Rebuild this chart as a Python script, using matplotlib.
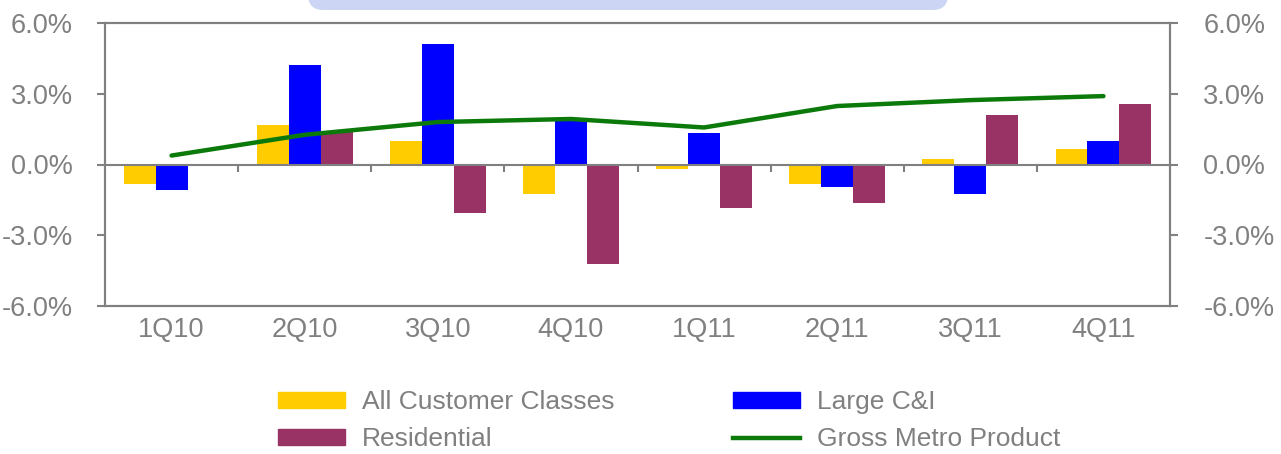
import matplotlib
matplotlib.use("Agg")
import matplotlib.pyplot as plt
import numpy as np
from matplotlib.patches import FancyBboxPatch, Patch
from matplotlib.lines import Line2D

plt.rcParams['font.family'] = ['Liberation Sans', 'DejaVu Sans']

quarters = ["1Q10", "2Q10", "3Q10", "4Q10", "1Q11", "2Q11", "3Q11", "4Q11"]
all_classes = [-0.84, 1.68, 1.00, -1.27, -0.20, -0.84, 0.25, 0.67]
large_ci = [-1.09, 4.24, 5.13, 1.89, 1.34, -0.97, -1.27, 1.00]
residential = [0.0, 1.39, -2.06, -4.20, -1.85, -1.64, 2.10, 2.56]
gmp = [0.38, 1.26, 1.80, 1.93, 1.57, 2.48, 2.73, 2.90]
yticks = [-6, -3, 0, 3, 6]
ytick_labels = ["-6.0%", "-3.0%", "0.0%", "3.0%", "6.0%"]

c_yellow = "#FFCC00"
c_blue = "#0000FF"
c_maroon = "#993366"
c_green = "#0B7A0B"
c_gray = "#808080"
fs = 19.5
lfs = 19

fig = plt.figure(figsize=(12.81, 4.54), dpi=100)
ax = fig.add_axes([105/1281, 1-306/454, (1170-105)/1281, (306-23)/454])

x = np.arange(len(quarters))
w = 0.24
ax.bar(x - w, all_classes, w, color=c_yellow, zorder=2)
ax.bar(x, large_ci, w, color=c_blue, zorder=2)
ax.bar(x + w, residential, w, color=c_maroon, zorder=2)
ax.axhline(0, color=c_gray, lw=1.5, zorder=3)
ax.vlines(x[:-1] + 0.5, -0.3, 0, color=c_gray, lw=1.5, zorder=3)
ax.plot(x, gmp, color=c_green, lw=3.2, solid_capstyle='round', zorder=4)

ax.set_xlim(-0.5, len(quarters) - 0.5)
ax.set_ylim(-6, 6)
ax.set_yticks(yticks)
ax.set_yticklabels(ytick_labels)
ax.set_xticks(x)
ax.set_xticklabels(quarters)
ax.tick_params(axis='x', length=0, pad=8, labelsize=fs, labelcolor=c_gray)
ax.tick_params(axis='y', direction='out', length=6, width=1.5, color=c_gray,
               pad=17, labelsize=fs, labelcolor=c_gray)
for s in ax.spines.values():
    s.set_color(c_gray)
    s.set_linewidth(1.5)

ax2 = ax.twinx()
ax2.set_ylim(-6, 6)
ax2.set_yticks(yticks)
ax2.set_yticklabels(ytick_labels)
ax2.tick_params(axis='y', direction='out', length=6, width=1.5, color=c_gray,
                pad=18, labelsize=fs, labelcolor=c_gray)
for s in ax2.spines.values():
    s.set_color(c_gray)
    s.set_linewidth(1.5)

# top banner box (cut off)
box = FancyBboxPatch((308/1281, 1-10/454), (948-308)/1281, 40/454,
                     boxstyle="round,pad=0,rounding_size=0.012",
                     transform=fig.transFigure, facecolor="#CDD5F5",
                     edgecolor="none", mutation_aspect=2.8)
fig.patches.append(box)

handles = [Patch(color=c_yellow), Patch(color=c_maroon),
           Patch(color=c_blue), Line2D([], [], color=c_green, lw=3.2)]
labels = ["All Customer Classes", "Residential", "Large C&I", "Gross Metro Product"]
leg = fig.legend(handles, labels, ncol=2, loc='upper left',
                 bbox_to_anchor=(278/1281, 1-390/454), frameon=False,
                 fontsize=lfs, handlelength=2.54, handleheight=0.55,
                 handletextpad=0.64, columnspacing=4.5, labelspacing=0.5,
                 borderaxespad=0, borderpad=0)
for t in leg.get_texts():
    t.set_color(c_gray)

fig.savefig("out.png", dpi=100)
